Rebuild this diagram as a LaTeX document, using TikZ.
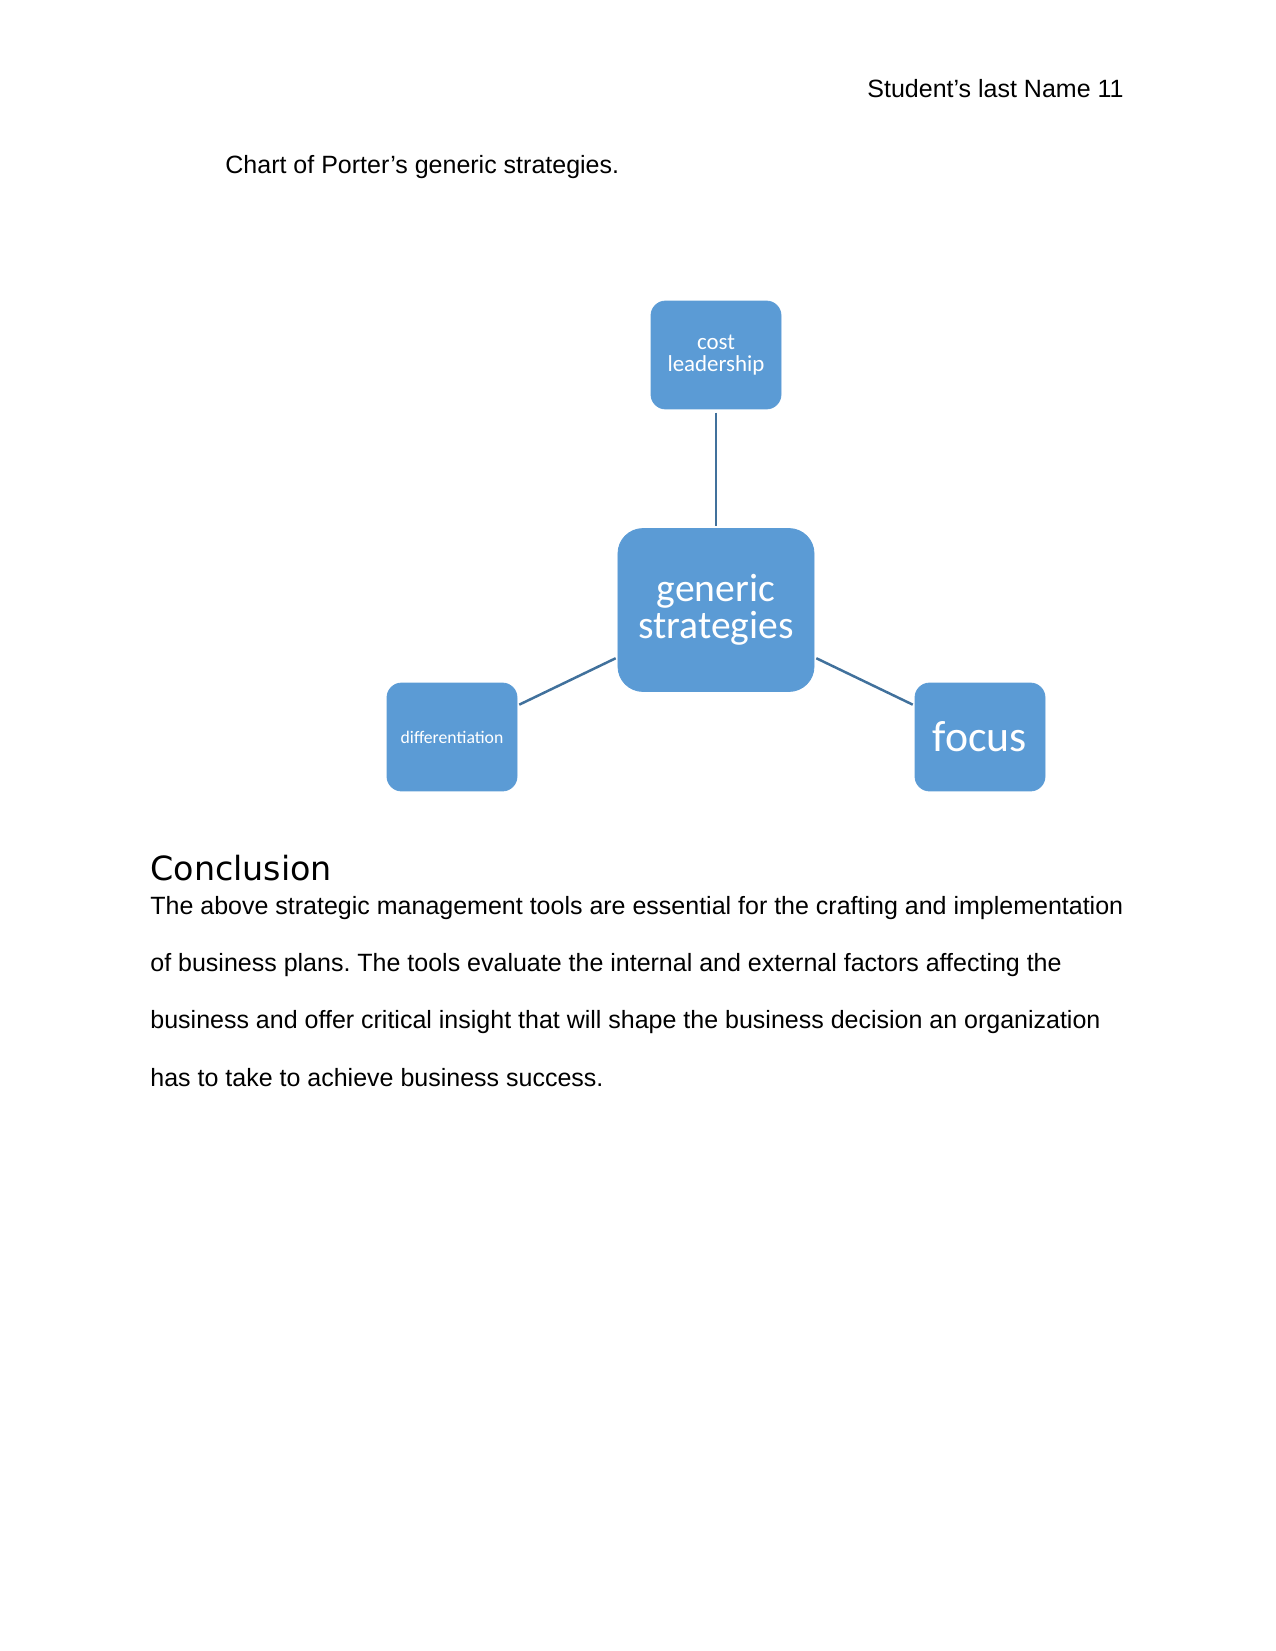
\documentclass[tikz,border=0pt]{standalone}
\usepackage{fontspec}
\setmainfont{Liberation Sans}
\newfontfamily\smartfont{Carlito}
\newfontfamily\headfont{DejaVu Sans}
\usetikzlibrary{positioning}
\definecolor{ptFill}{HTML}{5B9BD5}
\definecolor{ptLine}{HTML}{41719C}
\frenchspacing

\begin{document}
\begin{tikzpicture}[x=0.48pt,y=-0.48pt,
      s/.style={fill=ptFill,draw=ptFill,rounded corners=7pt,text=white,
                minimum width=62.4pt,minimum height=51.8pt,align=center,inner sep=1pt},
      txt/.style={anchor=base west,inner sep=0pt,font=\fontsize{12pt}{14pt}\selectfont},
      link/.style={draw=ptLine,line width=1.2pt}]
    \useasboundingbox (0,0) rectangle (1275,1651);

    % page text
    \node[txt,anchor=base east] (hd) at (1124,98) {Student’s last Name 11};
    \node[txt] (cap) at (225,174) {Chart of Porter’s generic strategies.};

    % chart
    \node[s,minimum width=94.1pt,minimum height=78.2pt,rounded corners=12pt,
          font=\smartfont\fontsize{19pt}{17.5pt}\selectfont] (gen) at (716,610) {generic\\strategies};
    \node[s,font=\smartfont\fontsize{11pt}{10.5pt}\selectfont]  (cost) at (716,355) {cost\\leadership};
    \node[s,font=\smartfont\fontsize{8.5pt}{10pt}\selectfont]   (diff) at (452,737) {differentiation};
    \node[s,font=\smartfont\fontsize{21pt}{22pt}\selectfont]    (foc)  at (980,737) {focus};

    \draw[link,shorten <=1.5pt,shorten >=1pt] (cost) -- (gen);
    \foreach \b in {diff,foc}
      \draw[link,shorten <=1pt,shorten >=1pt] (gen) -- (\b);

    % conclusion
    \node[anchor=base west,inner sep=0pt,font=\headfont\fontsize{16pt}{19pt}\selectfont] (con) at (150,880) {Conclusion};
    \foreach \k/\t in {0/The above strategic management tools are essential for the crafting and implementation,
                       1/of business plans. The tools evaluate the internal and external factors affecting the,
                       2/business and offer critical insight that will shape the business decision an organization,
                       3/has to take to achieve business success.}
      \node[txt] (l\k) at (150,{914+57.4*\k}) {\t};
  \end{tikzpicture}
\end{document}
